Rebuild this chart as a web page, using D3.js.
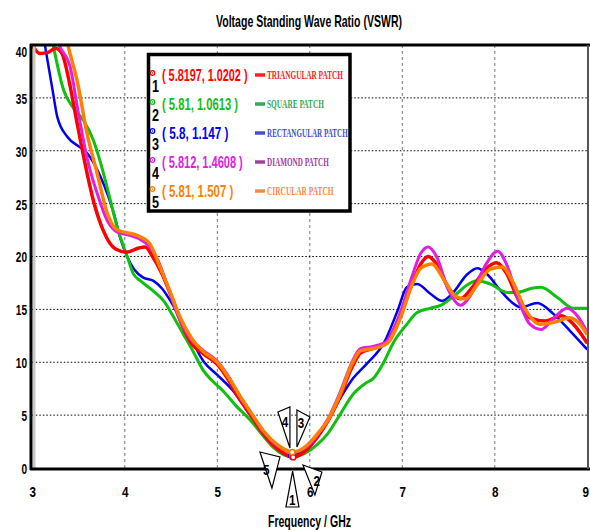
<!DOCTYPE html>
<html>
<head>
<meta charset="utf-8">
<script src="https://cdnjs.cloudflare.com/ajax/libs/d3/7.8.5/d3.min.js"></script>
<style>
body { margin: 0; background: #fff; }
svg text { font-family: "Liberation Sans Narrow", "Liberation Sans", Arial, sans-serif; font-weight: bold; }
</style>
</head>
<body>
<div id="chart"></div>
<script>
// VSWR curves, [GHz, VSWR]
var triangular = [[3.00,40.0],[3.08,39.2],[3.17,39.3],[3.25,39.7],[3.32,39.2],[3.40,36.5],[3.48,32.8],[3.57,28.8],[3.66,25.3],[3.77,22.4],[3.90,20.7],[4.02,20.4],[4.15,20.8],[4.22,20.9],[4.30,20.0],[4.40,18.4],[4.50,16.3],[4.62,13.5],[4.72,11.8],[4.85,10.8],[5.00,9.8],[5.10,8.6],[5.22,6.8],[5.36,5.0],[5.50,3.2],[5.65,1.8],[5.82,1.02],[5.95,1.6],[6.08,2.9],[6.20,4.5],[6.33,6.8],[6.45,9.4],[6.55,10.9],[6.68,11.3],[6.82,11.8],[6.97,14.3],[7.10,17.3],[7.20,19.3],[7.28,20.0],[7.37,19.3],[7.50,17.0],[7.63,16.0],[7.75,17.0],[7.90,18.8],[8.02,19.4],[8.12,18.5],[8.25,16.0],[8.38,14.2],[8.55,13.9],[8.72,14.4],[8.85,13.6],[9.00,11.8]];
var square = [[3.18,42.0],[3.23,39.8],[3.34,35.7],[3.44,34.1],[3.55,32.9],[3.66,31.0],[3.74,28.8],[3.81,26.5],[3.92,22.7],[4.03,19.9],[4.09,18.4],[4.17,17.7],[4.30,16.8],[4.42,15.8],[4.52,14.4],[4.63,12.7],[4.74,11.0],[4.85,9.2],[4.95,8.2],[5.06,7.3],[5.20,5.9],[5.36,4.5],[5.50,3.0],[5.60,2.0],[5.81,1.06],[5.95,1.4],[6.08,2.2],[6.19,3.2],[6.33,5.1],[6.47,7.0],[6.60,8.0],[6.69,8.5],[6.80,10.0],[6.90,11.8],[7.05,13.6],[7.16,14.7],[7.30,15.1],[7.42,15.4],[7.59,16.5],[7.70,17.3],[7.81,17.7],[7.95,17.4],[8.14,16.6],[8.24,16.6],[8.40,17.0],[8.50,17.1],[8.68,16.1],[8.85,15.1],[9.00,15.1]];
var rectangular = [[3.10,42.0],[3.14,39.8],[3.22,35.7],[3.27,33.2],[3.38,31.3],[3.52,30.3],[3.59,29.8],[3.66,28.9],[3.74,27.5],[3.88,24.1],[3.96,21.5],[4.03,19.9],[4.10,18.8],[4.20,18.0],[4.31,17.7],[4.40,17.0],[4.50,15.7],[4.57,14.6],[4.70,12.5],[4.85,10.1],[5.00,8.8],[5.17,7.3],[5.30,5.7],[5.45,3.8],[5.60,2.2],[5.80,1.147],[5.95,1.8],[6.08,3.0],[6.20,4.6],[6.33,6.6],[6.47,8.5],[6.62,9.9],[6.80,11.8],[6.95,14.9],[7.05,17.1],[7.16,17.4],[7.30,16.5],[7.43,15.8],[7.55,16.6],[7.70,18.3],[7.81,18.9],[7.92,18.3],[8.06,16.8],[8.18,15.7],[8.28,15.2],[8.46,15.6],[8.63,14.6],[8.81,13.0],[9.00,11.2]];
var diamond = [[3.20,42.0],[3.30,39.8],[3.41,37.9],[3.50,33.5],[3.59,29.4],[3.70,26.0],[3.81,23.4],[3.92,22.3],[4.05,22.0],[4.15,21.7],[4.27,20.9],[4.36,19.6],[4.47,17.0],[4.58,14.3],[4.71,12.2],[4.85,11.1],[5.00,10.1],[5.14,8.4],[5.26,6.5],[5.36,5.2],[5.50,3.4],[5.65,2.1],[5.812,1.46],[5.95,1.9],[6.08,3.1],[6.20,4.7],[6.33,7.2],[6.45,9.9],[6.55,11.3],[6.68,11.5],[6.82,11.9],[6.97,14.5],[7.10,18.0],[7.20,20.3],[7.28,20.9],[7.37,20.0],[7.50,16.8],[7.63,15.4],[7.75,16.5],[7.90,19.2],[8.03,20.5],[8.13,19.2],[8.25,16.0],[8.38,13.6],[8.50,13.1],[8.62,14.0],[8.78,15.1],[8.90,14.3],[9.00,12.8]];
var circular = [[3.33,42.0],[3.39,39.8],[3.49,36.4],[3.59,31.7],[3.70,27.9],[3.81,24.1],[3.92,22.5],[4.05,22.2],[4.13,22.0],[4.27,21.2],[4.38,19.0],[4.48,16.9],[4.60,14.2],[4.72,12.3],[4.85,11.0],[5.00,10.0],[5.14,8.3],[5.26,6.6],[5.36,5.3],[5.50,3.5],[5.65,2.2],[5.81,1.507],[5.95,2.0],[6.08,3.2],[6.20,4.6],[6.33,7.0],[6.47,10.1],[6.55,11.1],[6.69,11.3],[6.84,11.8],[6.98,14.2],[7.10,17.2],[7.20,18.9],[7.32,19.3],[7.45,17.8],[7.58,16.2],[7.68,16.0],[7.80,17.2],[7.95,18.8],[8.08,19.0],[8.20,17.5],[8.33,15.0],[8.49,13.6],[8.65,13.8],[8.81,14.2],[8.92,13.6],[9.00,12.6]];

var seriesNames = ["TRIANGULAR PATCH", "SQUARE PATCH", "RECTANGULAR PATCH", "DIAMOND PATCH", "CIRCULAR PATCH"];
var markerFreq = [5.8197, 5.81, 5.8, 5.812, 5.81];
var markerVswr = [1.0202, 1.0613, 1.147, 1.4608, 1.507];
var markerText = ["( 5.8197, 1.0202 )", "( 5.81, 1.0613 )", "( 5.8, 1.147 )", "( 5.812, 1.4608 )", "( 5.81, 1.507 )"];
var xTicks = [3, 4, 5, 6, 7, 8, 9];
var yTicks = [0, 5, 10, 15, 20, 25, 30, 35, 40];

var width = 590, height = 531,
    lineColors = ["#ff0000", "#10c010", "#0000f0", "#e020e0", "#ff8000"],
    lineWidths = [3.5, 3, 2.5, 3, 3.5],
    legendColors = ["#ff2020", "#33aa55", "#4050d0", "#a040a0", "#ff8a3a"],
    series = [triangular, square, rectangular, diamond, circular];

var x = d3.scaleLinear().domain([3, 9]).range([32.3, 587.3]),
    y = d3.scaleLinear().domain([0, 40]).range([468, 45]);

var svg = d3.select("#chart").append("svg")
    .attr("width", width)
    .attr("height", height);

svg.append("defs").append("clipPath").attr("id", "plotclip")
    .append("rect")
    .attr("x", x(3)).attr("y", y(40))
    .attr("width", x(9) - x(3)).attr("height", y(0) - y(40));

// grid
svg.append("g").selectAll("line")
    .data(xTicks.slice(1, -1))
    .enter().append("line")
    .attr("x1", function(d){ return x(d); })
    .attr("x2", function(d){ return x(d); })
    .attr("y1", y(40)).attr("y2", y(0))
    .attr("stroke", "#777").attr("stroke-width", 1)
    .attr("stroke-dasharray", "3,3");

svg.append("g").selectAll("line")
    .data(yTicks.slice(1, -1))
    .enter().append("line")
    .attr("x1", x(3)).attr("x2", x(9))
    .attr("y1", function(d){ return y(d); })
    .attr("y2", function(d){ return y(d); })
    .attr("stroke", "#000").attr("stroke-width", 1)
    .attr("stroke-dasharray", "1.5,2");

// axes
var xAxis = d3.axisBottom(x).tickValues(xTicks).tickFormat(d3.format("d")).tickSize(0).tickPadding(0),
    yAxis = d3.axisLeft(y).tickValues(yTicks).tickFormat(d3.format("d")).tickSize(0).tickPadding(0);

var gx = svg.append("g").attr("transform", "translate(0," + y(0) + ")").call(xAxis);
gx.select(".domain").remove();
gx.selectAll("text")
    .attr("y", 29).attr("dy", 0)
    .attr("dx", function(d){ return d == 9 ? -2 : 0; })
    .attr("fill", "#000")
    .style("font-size", "15px")
    .attr("textLength", 6.5).attr("lengthAdjust", "spacingAndGlyphs");

var gy = svg.append("g").attr("transform", "translate(27,0)").call(yAxis);
gy.select(".domain").remove();
gy.selectAll("text")
    .attr("x", 0)
    .attr("dy", function(d){ return d == 40 ? "0.75em" : "0.36em"; })
    .attr("fill", "#000")
    .style("font-size", "15px")
    .attr("textLength", function(d){ return String(d).length * 5.6; })
    .attr("lengthAdjust", "spacingAndGlyphs");

// curves
var line = d3.line()
    .x(function(d){ return x(d[0]); })
    .y(function(d){ return y(d[1]); })
    .curve(d3.curveMonotoneX);

var order = [2, 1, 0, 3, 4];
svg.append("g").attr("clip-path", "url(#plotclip)")
    .selectAll("path")
    .data(order)
    .enter().append("path")
    .attr("d", function(i){ return line(series[i]); })
    .attr("fill", "none")
    .attr("stroke", function(i){ return lineColors[i]; })
    .attr("stroke-width", function(i){ return lineWidths[i]; })
    .attr("stroke-linejoin", "round");

// frame
svg.append("rect").attr("x", 33).attr("y", 46).attr("width", 2.5).attr("height", y(0) - 46).attr("fill", "#c8c8c8");
svg.append("line").attr("x1", 31).attr("x2", 31).attr("y1", 44).attr("y2", 470).attr("stroke", "#000").attr("stroke-width", 3);
svg.append("line").attr("x1", 30).attr("x2", 590).attr("y1", 45).attr("y2", 45).attr("stroke", "#000").attr("stroke-width", 3);
svg.append("line").attr("x1", 30).attr("x2", 590).attr("y1", 469).attr("y2", 469).attr("stroke", "#000").attr("stroke-width", 3);
svg.append("line").attr("x1", 588).attr("x2", 588).attr("y1", 45).attr("y2", 469).attr("stroke", "#555").attr("stroke-width", 2);

// minimum markers
svg.append("g").selectAll("circle")
    .data(order)
    .enter().append("circle")
    .attr("cx", function(i){ return x(markerFreq[i]); })
    .attr("cy", function(i){ return y(markerVswr[i]); })
    .attr("r", 2.6)
    .attr("fill", "#fff")
    .attr("stroke", function(i){ return lineColors[i]; })
    .attr("stroke-width", 1.5);

// triangle flags around the marker point
var px = x(5.81), py = y(1.0);
var flags = [
    {n: "1", p: [[0.4,13.6],[-6.3,49.6],[6.7,49.6]], t: [0, 48]},
    {n: "2", p: [[10.7,7.6],[29.7,14.6],[22.7,37.6]], t: [24.5, 29]},
    {n: "3", p: [[4.7,-47.4],[17.7,-40.4],[4.7,-10.4]], t: [8.7, -29]},
    {n: "4", p: [[-14.3,-45.4],[-2.3,-50.4],[-2.3,-9.4]], t: [-7.3, -30]},
    {n: "5", p: [[-32.3,-5.4],[-12.3,-0.4],[-20.3,30.6]], t: [-26, 17.5]}
];
var flag = svg.append("g").selectAll("g")
    .data(flags)
    .enter().append("g")
    .attr("transform", "translate(" + px + "," + py + ")");
flag.append("polygon")
    .attr("points", function(d){ return d.p.map(function(q){ return q.join(","); }).join(" "); })
    .attr("fill", "#fff").attr("stroke", "#000").attr("stroke-width", 1.2);
flag.append("text")
    .attr("x", function(d){ return d.t[0]; })
    .attr("y", function(d){ return d.t[1]; })
    .attr("text-anchor", "middle")
    .style("font-size", "15px")
    .attr("textLength", 6.5).attr("lengthAdjust", "spacingAndGlyphs")
    .text(function(d){ return d.n; });

// legend
var legend = svg.append("g");
legend.append("rect")
    .attr("x", 148.5).attr("y", 54.5)
    .attr("width", 201.5).attr("height", 156.5)
    .attr("fill", "#fff").attr("stroke", "#000").attr("stroke-width", 3.5);

var row = legend.selectAll("g.row")
    .data(seriesNames)
    .enter().append("g")
    .attr("class", "row")
    .attr("transform", function(d, i){ return "translate(0," + (76 + i * 29) + ")"; });

row.append("circle")
    .attr("cx", 152.5).attr("cy", -3).attr("r", 2.3)
    .attr("fill", "#fff")
    .attr("stroke", function(d, i){ return lineColors[i]; })
    .attr("stroke-width", 1.2);
row.append("circle")
    .attr("cx", 152.5).attr("cy", -3).attr("r", 0.8)
    .attr("fill", function(d, i){ return lineColors[i]; });
row.append("text")
    .attr("x", 155.5).attr("y", 16)
    .attr("text-anchor", "middle")
    .style("font-size", "16px")
    .attr("fill", "#000")
    .attr("textLength", 7).attr("lengthAdjust", "spacingAndGlyphs")
    .text(function(d, i){ return i + 1; });
row.append("text")
    .attr("x", 162).attr("y", 5)
    .style("font-size", "16px")
    .attr("fill", function(d, i){ return lineColors[i]; })
    .attr("textLength", function(d, i){ return markerText[i].length * 4.75; })
    .attr("lengthAdjust", "spacingAndGlyphs")
    .text(function(d, i){ return markerText[i]; });
row.append("line")
    .attr("x1", 255).attr("x2", 265).attr("y1", -1).attr("y2", -1)
    .attr("stroke", function(d, i){ return legendColors[i]; })
    .attr("stroke-width", 3.5);
row.append("text")
    .attr("x", 267).attr("y", 3)
    .style("font-family", "'Liberation Serif', 'Times New Roman', serif")
    .style("font-size", "12px")
    .attr("fill", function(d, i){ return legendColors[i]; })
    .attr("textLength", function(d){ return d.length * 4.75; })
    .attr("lengthAdjust", "spacingAndGlyphs")
    .text(function(d){ return d; });

// titles
svg.append("text")
    .attr("x", 309).attr("y", 27)
    .attr("text-anchor", "middle")
    .style("font-size", "17px")
    .attr("textLength", 186).attr("lengthAdjust", "spacingAndGlyphs")
    .text("Voltage Standing Wave Ratio (VSWR)");

svg.append("text")
    .attr("x", 309.5).attr("y", 527)
    .attr("text-anchor", "middle")
    .style("font-size", "16px")
    .attr("textLength", 83).attr("lengthAdjust", "spacingAndGlyphs")
    .text("Frequency / GHz");
</script>
</body>
</html>
